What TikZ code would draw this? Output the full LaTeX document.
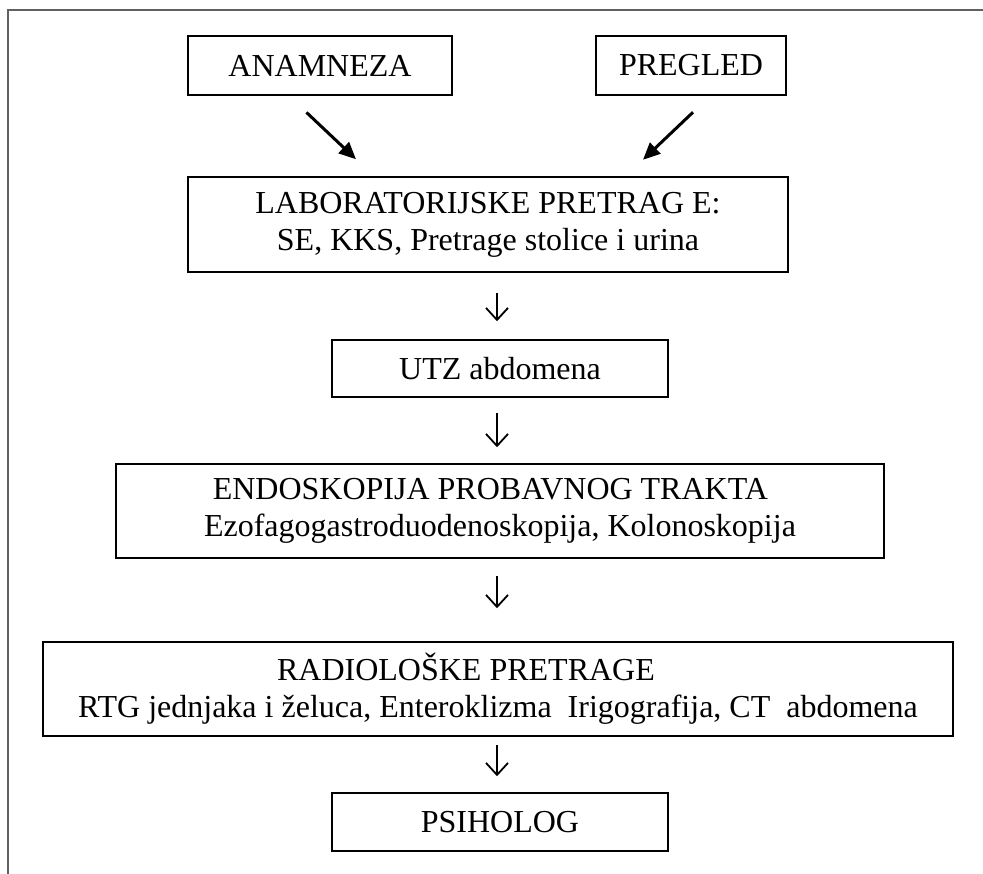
\documentclass[tikz,border=0pt]{standalone}
\usepackage{fontspec}
\setmainfont{Liberation Serif}
\usepackage{xcolor}
\usetikzlibrary{arrows.meta}
\definecolor{frameGray}{rgb}{0.38,0.38,0.38}

\begin{document}
\begin{tikzpicture}[x=1pt, y=-1pt,
  box/.style={draw, line width=1.5pt, inner sep=0pt, align=center, font=\fontsize{32}{37}\selectfont},
  diag/.style={line width=3pt, -{Triangle[length=17pt,width=15pt]}},
  dn/.style={line width=1.8pt, -{Straight Barb[length=12pt,width=22pt]}}]
 	\useasboundingbox (0,0) rectangle (983,874);
	\draw[frameGray, line width=1.6pt] (8,874) -- (8,10) -- (983,10);
	% boxes
	\node[box, minimum width=264pt, minimum height=59pt] (anamneza) at (320,65.5) {ANAMNEZA};
	\node[box, minimum width=190pt, minimum height=59pt] (pregled) at (691,65.5) {PREGLED};
	\node[box, minimum width=600pt, minimum height=95pt] (lab) at (488,224.5) {LABORATORIJSKE PRETRAG E:\\ SE, KKS, Pretrage stolice i urina};
	\node[box, minimum width=336pt, minimum height=57pt] (utz) at (500,368.5) {UTZ abdomena};
	\node[box, minimum width=768pt, minimum height=94pt] (endo) at (500,511) {ENDOSKOPIJA PROBAVNOG TRAKTA\rule{0.6em}{0pt}\\ Ezofagogastroduodenoskopija, Kolonoskopija};
	\node[box, minimum width=910pt, minimum height=94pt] (radio) at (498,689) {RADIOLOŠKE PRETRAGE\rule{2em}{0pt}\\ RTG jednjaka i želuca, Enteroklizma\ \ Irigografija, CT\ \ abdomena};
	\node[box, minimum width=336pt, minimum height=58pt] (psiholog) at (500,822) {PSIHOLOG};
	% arrows
	\coordinate (axis) at (497,0);
	\draw[diag] ([xshift=-13.5pt,yshift=-16.7pt]anamneza.south) -- ([xshift=-132pt,yshift=17pt]lab.north);
	\draw[diag] ([xshift=2pt,yshift=-16.5pt]pregled.south) -- ([xshift=155pt,yshift=16.5pt]lab.north);
	\draw[dn, shorten <=20pt, shorten >=18pt] (axis |- lab.south) -- (axis |- utz.north);
	\draw[dn, shorten <=15pt, shorten >=16pt] (axis |- utz.south) -- (axis |- endo.north);
	\draw[dn, shorten <=17pt, shorten >=33pt] (axis |- endo.south) -- (axis |- radio.north);
	\draw[dn, shorten <=8pt, shorten >=16pt] (axis |- radio.south) -- (axis |- psiholog.north);
\end{tikzpicture}
\end{document}
